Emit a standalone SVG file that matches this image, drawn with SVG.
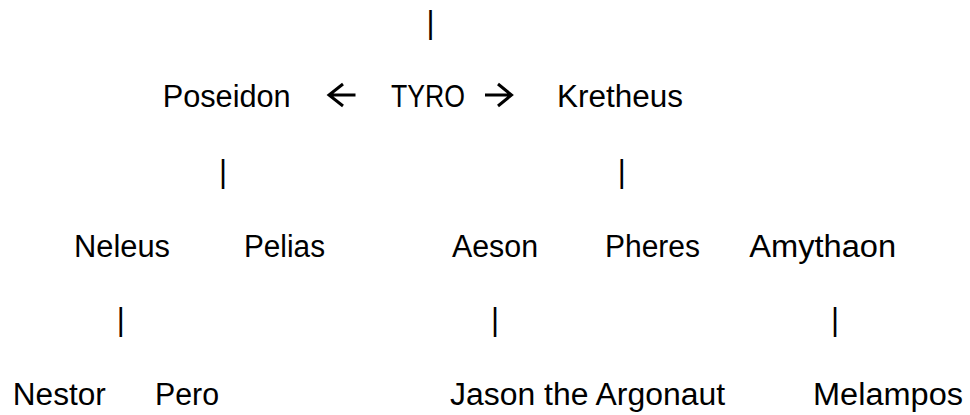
<svg xmlns="http://www.w3.org/2000/svg" width="970" height="415" viewBox="0 0 970 415">
<style>
  text { font-family: "Liberation Sans", Arial, sans-serif; font-size: 31px; fill: #000; text-anchor: middle; }
  .arrow { fill: none; stroke: #000; stroke-width: 3; stroke-linejoin: miter; }
</style>
<rect width="970" height="415" fill="#fff"/>
<g id="connectors">
  <text x="430.5" y="32.5">|</text>
  <path class="arrow" d="M355.5,95 H329 M343,84 L329,95 L343,106"/>
  <path class="arrow" d="M485,95 H511.5 M498,84 L511.5,95 L498,106"/>
  <text x="223" y="181.5">|</text>
  <text x="621.7" y="181.5">|</text>
  <text x="120.7" y="329.5">|</text>
  <text x="495" y="329.5">|</text>
  <text x="835" y="329.5">|</text>
</g>
<g id="poseidon"><text x="226.7" y="106.7" textLength="128" lengthAdjust="spacingAndGlyphs">Poseidon</text></g>
<g id="tyro"><text x="428" y="106.7" textLength="74" lengthAdjust="spacingAndGlyphs">TYRO</text></g>
<g id="kretheus"><text x="620" y="106.7" textLength="126" lengthAdjust="spacingAndGlyphs">Kretheus</text></g>
<g id="neleus"><text x="122" y="256.7" textLength="96" lengthAdjust="spacingAndGlyphs">Neleus</text></g>
<g id="pelias"><text x="284.5" y="256.7" textLength="81" lengthAdjust="spacingAndGlyphs">Pelias</text></g>
<g id="aeson"><text x="495" y="256.7" textLength="86" lengthAdjust="spacingAndGlyphs">Aeson</text></g>
<g id="pheres"><text x="652.5" y="256.7" textLength="95" lengthAdjust="spacingAndGlyphs">Pheres</text></g>
<g id="amythaon"><text x="822.7" y="256.7" textLength="147" lengthAdjust="spacingAndGlyphs">Amythaon</text></g>
<g id="nestor"><text x="59.3" y="405" textLength="93" lengthAdjust="spacingAndGlyphs">Nestor</text></g>
<g id="pero"><text x="187" y="405" textLength="64" lengthAdjust="spacingAndGlyphs">Pero</text></g>
<g id="jason"><text x="587.5" y="405" textLength="275" lengthAdjust="spacingAndGlyphs">Jason the Argonaut</text></g>
<g id="melampos"><text x="888" y="405" textLength="150" lengthAdjust="spacingAndGlyphs">Melampos</text></g>
</svg>
